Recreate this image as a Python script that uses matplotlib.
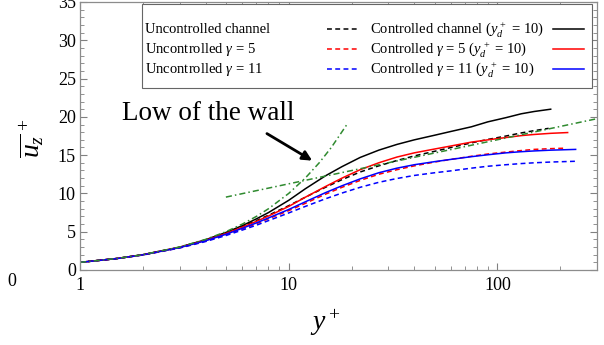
import matplotlib
matplotlib.use("Agg")
import matplotlib.pyplot as plt
from matplotlib.patches import Rectangle

plt.rcParams['font.family'] = 'Liberation Serif'
plt.rcParams['mathtext.fontset'] = 'custom'
plt.rcParams['mathtext.rm'] = 'Liberation Serif'
plt.rcParams['mathtext.it'] = 'Liberation Serif:italic'
plt.rcParams['mathtext.bf'] = 'Liberation Serif:bold'

# wall units sampled along each profile (common part, each curve adds its own end point)
yplus = [1, 1.5, 2, 3, 4, 5, 6, 7, 8, 10, 12, 15, 18, 22, 27, 33, 40, 50, 60, 75, 90, 110, 130, 150]

# uncontrolled profiles (dashed)
y_unc_chan = yplus + [176]
u_unc_chan = [1.0, 1.5, 1.99, 2.96, 3.92, 4.82, 5.68, 6.45, 7.15, 8.4, 9.5, 10.8, 11.8, 12.8,
              13.6, 14.3, 14.9, 15.5, 16.0, 16.6, 17.05, 17.5, 17.9, 18.2, 18.5]
y_unc_g5 = yplus + [180, 207]
u_unc_g5 = [1.0, 1.49, 1.97, 2.9, 3.78, 4.6, 5.37, 6.05, 6.7, 7.75, 8.7, 9.9, 10.8, 11.7,
            12.5, 13.1, 13.6, 14.1, 14.45, 14.85, 15.15, 15.4, 15.6, 15.75, 15.85, 15.9]
y_unc_g11 = yplus + [180, 237]
u_unc_g11 = [1.0, 1.49, 1.96, 2.87, 3.72, 4.5, 5.22, 5.85, 6.45, 7.45, 8.3, 9.3, 10.05, 10.8,
             11.45, 11.95, 12.35, 12.7, 12.95, 13.3, 13.55, 13.75, 13.9, 14.0, 14.1, 14.2]

# controlled profiles, yd+ = 10 (solid)
y_con_chan = yplus + [180]
u_con_chan = [1.0, 1.5, 2.0, 2.98, 3.95, 4.9, 5.8, 6.68, 7.5, 9.1, 10.6, 12.3, 13.5, 14.7,
              15.65, 16.4, 17.0, 17.6, 18.1, 18.7, 19.35, 19.9, 20.4, 20.7, 21.0]
y_con_g5 = yplus + [180, 217]
u_con_g5 = [1.0, 1.5, 1.99, 2.95, 3.88, 4.76, 5.6, 6.35, 7.05, 8.3, 9.5, 10.9, 12.0, 13.1,
            14.0, 14.75, 15.3, 15.8, 16.2, 16.7, 17.0, 17.3, 17.55, 17.7, 17.85, 17.95]
y_con_g11 = yplus + [180, 237]
u_con_g11 = [1.0, 1.49, 1.98, 2.92, 3.82, 4.66, 5.45, 6.15, 6.8, 7.9, 8.9, 10.1, 11.0, 11.9,
             12.7, 13.3, 13.75, 14.15, 14.45, 14.8, 15.05, 15.3, 15.45, 15.55, 15.65, 15.75]

# law of the wall: viscous sublayer u+ = y+ and log layer
y_visc = [1, 1.5, 2, 3, 4, 5, 6, 7, 8, 10, 12, 14, 16, 19]
u_visc = [1, 1.5, 2, 3, 4, 5, 6, 7, 8, 10, 12, 14, 16, 19]
y_log = [5, 300]
u_log = [9.52, 19.76]

left_labels = ['Uncontrolled channel', r'Uncontrolled $\gamma$ = 5', r'Uncontrolled $\gamma$ = 11']
right_labels = [r'Controlled channel ($y_d^{\,+}$ = 10)',
                r'Controlled $\gamma$ = 5 ($y_d^{\,+}$ = 10)',
                r'Controlled $\gamma$ = 11 ($y_d^{\,+}$ = 10)']
colors = ['black', '#ff0000', '#0000ff']
green = '#2f8a2f'

fig = plt.figure(figsize=(6.04, 3.45), dpi=100)
ax = fig.add_axes([80 / 604, 75 / 345, 517 / 604, 268 / 345])

dash = (0, (3.2, 2.2))
lw = 1.1
ax.plot(y_unc_chan, u_unc_chan, color=colors[0], ls=dash, lw=lw)
ax.plot(y_unc_g5, u_unc_g5, color=colors[1], ls=dash, lw=lw)
ax.plot(y_unc_g11, u_unc_g11, color=colors[2], ls=dash, lw=lw)
ax.plot(y_con_chan, u_con_chan, color=colors[0], lw=lw)
ax.plot(y_con_g5, u_con_g5, color=colors[1], lw=lw)
ax.plot(y_con_g11, u_con_g11, color=colors[2], lw=lw)
dashdot = (0, (4, 2, 1, 2))
ax.plot(y_visc, u_visc, color=green, ls=dashdot, lw=lw)
ax.plot(y_log, u_log, color=green, ls=dashdot, lw=lw)

ax.set_xscale('log')
ax.set_xlim(1, 300)
ax.set_ylim(0, 35)
ax.set_xticks([1, 10, 100], ['1', '10', '100'])
ax.set_yticks(range(0, 36, 5))
ax.set_yticks(range(0, 36), minor=True)
ax.tick_params(which='both', direction='in', top=True, right=True, color='0.5', labelsize=13)
ax.tick_params(axis='x', which='major', length=5, pad=5)
ax.tick_params(axis='y', which='major', length=5, pad=3)
ax.tick_params(which='minor', length=3)
for s in ax.spines.values():
    s.set_color('0.55')
    s.set_linewidth(0.9)

ax.text(4.13, 20.5, 'Low of the wall', fontsize=19.5, ha='center', va='center')
ax.annotate('', xy=(13.3, 14.1), xytext=(7.66, 18.0),
            arrowprops=dict(arrowstyle='-|>', color='black', lw=2, mutation_scale=14))

# legend: labels on the left, line samples on the right of each column
tr = ax.transAxes
ax.add_patch(Rectangle((0.12, 0.679), 0.87, 0.3135, transform=tr, facecolor='white',
                       edgecolor='0.4', lw=0.8, zorder=5))
rows = [0.899, 0.825, 0.750]
for i in range(3):
    base = rows[i] - 0.016
    ax.text(0.126, base, left_labels[i], transform=tr, fontsize=10.5,
            va='baseline', zorder=6)
    ax.plot([0.478, 0.540], [rows[i], rows[i]], transform=tr, color=colors[i], ls=dash,
            lw=lw, zorder=6)
    ax.text(0.561, base, right_labels[i], transform=tr, fontsize=10.5,
            va='baseline', zorder=6)
    ax.plot([0.915, 0.975], [rows[i], rows[i]], transform=tr, color=colors[i], lw=lw, zorder=6)

ax.set_xlabel('$y^+$', fontsize=20)
ax.xaxis.set_label_coords(0.474, -0.14)
fig.text(31 / 604, 1 - 138 / 345, r'$\overline{u_z}^{\,+}$', fontsize=20, rotation=90,
         ha='center', va='center')
fig.text(12 / 604, 1 - 282 / 345, '0', fontsize=13, ha='center', va='center')

fig.savefig('out.png', dpi=100)
